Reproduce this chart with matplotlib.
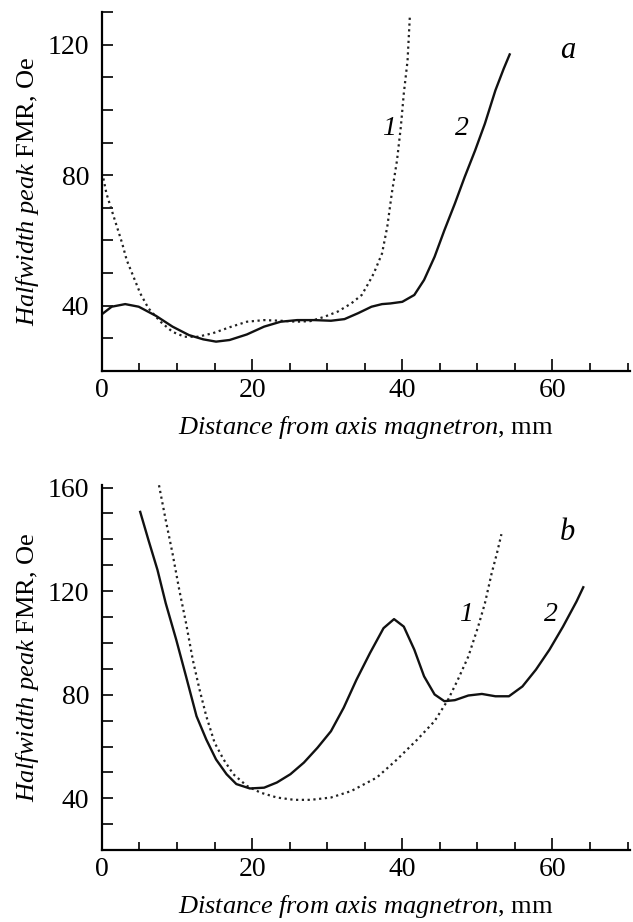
import matplotlib
matplotlib.use("Agg")
import matplotlib.pyplot as plt
from matplotlib.ticker import MultipleLocator, FixedLocator

plt.rcParams['font.family'] = ['Liberation Serif', 'DejaVu Serif']
plt.rcParams['mathtext.fontset'] = 'custom'
plt.rcParams['mathtext.rm'] = 'Liberation Serif'
plt.rcParams['mathtext.it'] = 'Liberation Serif:italic'

# Panel a, curve 1 (dotted)
a1_x = [0.2, 0.6, 1.3, 2.0, 2.7, 3.3, 4.2, 5.1, 6.2, 7.8, 9.4, 11.0, 12.8, 14.8, 17.0, 19.3, 21.6, 23.8,
        26.0, 27.8, 29.6, 31.4, 33.2, 34.6, 35.5, 36.2, 37.3, 38.0, 38.6, 39.3, 39.8, 40.2,
        40.7, 41.0]
a1_y = [79.0, 74.4, 69.3, 64.2, 59.1, 54.0, 48.9, 43.8, 39.2, 35.1, 32.0, 30.5, 30.5, 31.6, 33.4, 35.1, 35.6, 35.4,
        35.1, 35.3, 36.6, 38.2, 40.7, 43.3, 46.9, 49.9, 56.0, 64.2, 74.4, 84.6, 94.7, 105.0,
        115.1, 128.4]
# Panel a, curve 2 (solid)
a2_x = [0.0, 1.3, 3.1, 4.9, 7.2, 9.4, 11.6, 13.5, 15.2, 17.0, 19.3, 21.6, 23.8, 26.0, 28.3, 30.5,
        32.3, 34.1, 35.9, 37.3, 38.4, 40.0, 41.6, 42.9, 44.3, 45.6, 47.0, 48.3, 49.7, 51.0,
        52.4, 53.5, 54.3]
a2_y = [37.4, 39.7, 40.5, 39.7, 36.9, 33.6, 31.0, 29.7, 29.0, 29.5, 31.2, 33.6, 35.1, 35.6, 35.6, 35.4,
        35.9, 37.7, 39.7, 40.5, 40.7, 41.2, 43.3, 47.9, 55.0, 63.1, 71.3, 79.4, 87.6, 95.8,
        106.0, 112.6, 117.0]

# Panel b, curve 1 (dotted)
b1_x = [7.6, 8.5, 9.4, 10.3, 11.2, 12.1, 13.0, 13.9, 15.0, 16.2, 17.5, 19.3, 21.1, 23.3, 25.6, 27.8,
        30.5, 33.2, 36.6, 39.3, 42.0, 44.3, 46.1, 47.4, 48.8, 50.1, 51.0, 51.9, 52.6, 53.2]
b1_y = [160.9, 147.4, 134.6, 120.5, 107.7, 93.5, 82.0, 71.7, 61.5, 55.0, 49.3, 44.8, 42.2, 40.3, 39.4, 39.4,
        40.3, 42.8, 48.0, 55.0, 62.7, 69.8, 78.1, 85.8, 94.8, 106.3, 115.3, 126.9, 134.6, 142.0]
# Panel b, curve 2 (solid)
b2_x = [5.1, 6.2, 7.4, 8.5, 9.9, 11.2, 12.6, 13.9, 15.2, 16.6, 17.9, 19.7, 21.6, 23.3, 25.1, 26.9,
        28.7, 30.5, 32.2, 33.9, 35.7, 37.5, 38.9, 40.2, 41.6, 42.9, 44.3, 45.6, 47.0, 48.8,
        50.6, 52.4, 54.2, 56.0, 57.8, 59.6, 61.4, 63.2, 64.1]
b2_y = [150.6, 139.7, 128.2, 115.3, 101.2, 87.1, 71.7, 62.7, 55.0, 49.3, 45.5, 43.8, 44.1, 46.1, 49.3, 53.8,
        59.5, 65.9, 75.0, 85.8, 96.1, 105.7, 109.2, 106.3, 97.4, 87.1, 80.1, 77.5, 77.9, 79.7,
        80.3, 79.4, 79.4, 83.2, 89.7, 97.4, 106.3, 116.0, 121.5]

x_ticklabels = [0, 20, 40, 60]
x_minor = [5, 10, 15, 25, 30, 35, 45, 50, 55, 65, 70]
a_yticklabels = [40, 80, 120]
b_yticklabels = [40, 80, 120, 160]

fig = plt.figure(figsize=(6.33, 9.22), dpi=100)
ax_a = fig.add_axes([0.161, 0.5976, 0.834, 0.3894])
ax_b = fig.add_axes([0.161, 0.078, 0.834, 0.396])

xlabel = r"$\mathit{Distance\ from\ axis\ magnetron}$, mm"
ylabel = r"$\mathit{Halfwidth\ peak}$ FMR, Oe"
FS = 20
LFS = 19
DOT = (0, (1, 1.6))

def style(ax, ylim, yticks):
    ax.set_xlim(0, 70.3)
    ax.set_ylim(*ylim)
    for s in ['top', 'right']:
        ax.spines[s].set_visible(False)
    for s in ['left', 'bottom']:
        ax.spines[s].set_linewidth(1.6)
    ax.xaxis.set_major_locator(FixedLocator(x_ticklabels))
    ax.xaxis.set_minor_locator(FixedLocator(x_minor))
    ax.yaxis.set_major_locator(FixedLocator(yticks))
    ax.yaxis.set_minor_locator(MultipleLocator(10))
    ax.tick_params(axis='both', which='both', direction='in', width=1.2, labelsize=FS)
    ax.tick_params(axis='x', which='major', length=9, pad=5)
    ax.tick_params(axis='x', which='minor', length=6)
    ax.tick_params(axis='y', which='major', length=8, pad=9)
    ax.tick_params(axis='y', which='minor', length=8)
    ax.set_xlabel(xlabel, fontsize=LFS, labelpad=8)
    ax.set_ylabel(ylabel, fontsize=LFS, labelpad=5)

ax_a.plot(a1_x, a1_y, color='#222222', linestyle=DOT, linewidth=1.6)
ax_a.plot(a2_x, a2_y, color='#111111', linewidth=1.7)
style(ax_a, (20, 130), a_yticklabels)
ax_a.text(38.2, 94.2, '1', fontsize=FS, style='italic', ha='center', va='center')
ax_a.text(47.9, 94.2, '2', fontsize=FS, style='italic', ha='center', va='center')
ax_a.text(62.0, 118.2, 'a', fontsize=FS + 2, style='italic', ha='center', va='center')

ax_b.plot(b1_x, b1_y, color='#222222', linestyle=DOT, linewidth=1.6)
ax_b.plot(b2_x, b2_y, color='#111111', linewidth=1.7)
style(ax_b, (20, 161), b_yticklabels)
ax_b.text(48.5, 110.8, '1', fontsize=FS, style='italic', ha='center', va='center')
ax_b.text(59.8, 110.8, '2', fontsize=FS, style='italic', ha='center', va='center')
ax_b.text(62.0, 142.6, 'b', fontsize=FS + 2, style='italic', ha='center', va='center')

fig.savefig('out.png', dpi=100)
